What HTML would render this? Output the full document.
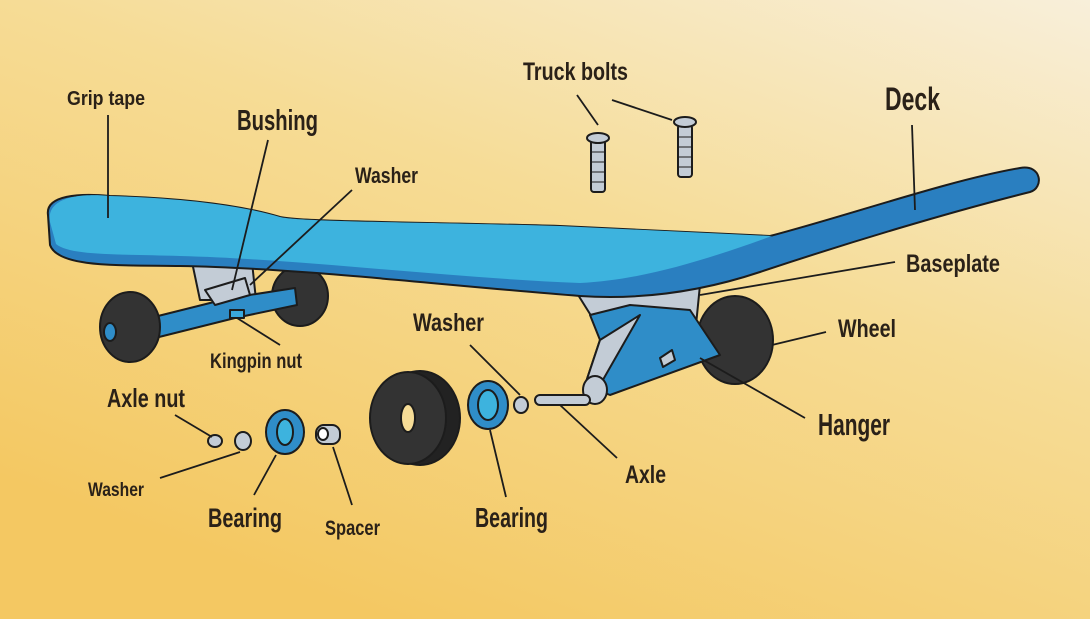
<!DOCTYPE html>
<html><head><meta charset="utf-8"><style>
html,body{margin:0;padding:0;width:1090px;height:619px;overflow:hidden}
svg{display:block}
text{font-family:"Liberation Sans Narrow","Liberation Sans",sans-serif;font-weight:bold;fill:#2a2118}
</style></head><body>
<svg width="1090" height="619" viewBox="0 0 1090 619">
<defs>
<linearGradient id="bg" x1="1" y1="0" x2="0.35" y2="1">
<stop offset="0" stop-color="#f8efda"/><stop offset="0.45" stop-color="#f6dc96"/><stop offset="1" stop-color="#f4c862"/>
</linearGradient>
</defs>
<rect width="1090" height="619" fill="url(#bg)"/>
<g stroke="#1c1c1c" stroke-width="2" stroke-linejoin="round">
<!-- front truck behind deck -->
<path d="M192,262 L252,262 L256,300 L200,300 Z" fill="#c3ccd6"/>
<ellipse cx="300" cy="296" rx="28" ry="30" fill="#333"/>
<path d="M150,318 L230,298 L295,288 L297,305 L235,318 L155,338 Z" fill="#2f8dc8"/>
<path d="M205,290 L245,278 L250,295 L215,305 Z" fill="#c3ccd6"/>
<rect x="230" y="310" width="14" height="8" fill="#3aa8dc"/>
<ellipse cx="130" cy="327" rx="30" ry="35" fill="#333"/>
<ellipse cx="110" cy="332" rx="6" ry="9" fill="#2f8dc8"/>
<!-- rear truck -->
<path d="M575,290 L700,285 L695,335 L600,330 Z" fill="#c3ccd6"/>
<ellipse cx="735" cy="340" rx="38" ry="44" fill="#333"/>
<path d="M590,315 L630,305 L690,310 L720,355 L610,395 L585,385 L600,340 Z" fill="#2f8dc8"/>
<path d="M600,340 L640,315 L600,385 L585,385 Z" fill="#c3ccd6"/>
<ellipse cx="595" cy="390" rx="12" ry="14" fill="#c3ccd6"/>
<path d="M660,358 L672,350 L675,360 L663,367 Z" fill="#c3ccd6"/>
<rect x="535" y="395" width="55" height="10" rx="5" fill="#c3ccd6"/>
<!-- deck -->
<path d="M48,215 C45,195 80,193 110,196 C180,198 240,205 280,217 C300,222 420,222 560,226 L770,236 C850,215 950,180 1020,168 C1042,164 1044,188 1030,192 C950,212 850,242 760,272 C700,292 640,300 580,296 C450,286 300,268 180,266 C120,265 58,268 50,245 Z" fill="#2a7fc0"/>
<path d="M50,222 C46,197 80,193 110,196 C180,198 240,205 280,217 C300,222 420,222 560,226 L772,236 C700,262 640,280 580,283 C450,278 300,259 180,256 C120,254 70,256 56,244 Z" fill="#3db3de" stroke="none"/>
<!-- bolts -->
<g fill="#c3ccd6">
<rect x="591" y="140" width="14" height="52" rx="3"/><ellipse cx="598" cy="138" rx="11" ry="5"/>
<rect x="678" y="125" width="14" height="52" rx="3"/><ellipse cx="685" cy="122" rx="11" ry="5"/>
</g>
<g stroke-width="1" fill="none">
<path d="M591,152h14M591,162h14M591,172h14M591,182h14M678,137h14M678,147h14M678,157h14M678,167h14"/>
</g>
<!-- exploded parts -->
<ellipse cx="420" cy="418" rx="40" ry="47" fill="#222"/>
<ellipse cx="408" cy="418" rx="38" ry="46" fill="#333"/>
<ellipse cx="408" cy="418" rx="7" ry="14" fill="#f6dc96"/>
<ellipse cx="488" cy="405" rx="20" ry="24" fill="#2f8dc8"/>
<ellipse cx="488" cy="405" rx="10" ry="15" fill="#3db3de"/>
<ellipse cx="521" cy="405" rx="7" ry="8" fill="#c3ccd6"/>
<ellipse cx="215" cy="441" rx="7" ry="6" fill="#c3ccd6"/>
<ellipse cx="243" cy="441" rx="8" ry="9" fill="#c3ccd6"/>
<ellipse cx="285" cy="432" rx="19" ry="22" fill="#2f8dc8"/>
<ellipse cx="285" cy="432" rx="8" ry="13" fill="#3db3de"/>
<rect x="316" y="425" width="24" height="19" rx="8" fill="#c3ccd6"/>
<ellipse cx="323" cy="434" rx="5" ry="6" fill="#fff"/>
</g>
<!-- leader lines -->
<g stroke="#1c1c1c" stroke-width="1.8" fill="none">
<path d="M108,115 L108,218"/><path d="M268,140 L232,290"/><path d="M352,190 L250,285"/>
<path d="M577,95 L598,125"/><path d="M612,100 L672,120"/><path d="M912,125 L915,210"/>
<path d="M895,262 L700,295"/><path d="M826,332 L772,345"/><path d="M805,418 L700,358"/>
<path d="M470,345 L520,395"/><path d="M617,458 L560,405"/><path d="M506,497 L490,430"/>
<path d="M280,345 L237,318"/><path d="M175,415 L212,437"/><path d="M160,478 L240,452"/>
<path d="M254,495 L276,455"/><path d="M352,505 L333,447"/>
</g>
<text x="67" y="105" font-size="20" textLength="78" lengthAdjust="spacingAndGlyphs">Grip tape</text>
<text x="237" y="130" font-size="29" textLength="81" lengthAdjust="spacingAndGlyphs">Bushing</text>
<text x="355" y="183" font-size="22" textLength="63" lengthAdjust="spacingAndGlyphs">Washer</text>
<text x="523" y="80" font-size="25" textLength="105" lengthAdjust="spacingAndGlyphs">Truck bolts</text>
<text x="885" y="110" font-size="32" textLength="55" lengthAdjust="spacingAndGlyphs">Deck</text>
<text x="906" y="272" font-size="25" textLength="94" lengthAdjust="spacingAndGlyphs">Baseplate</text>
<text x="838" y="337" font-size="25" textLength="58" lengthAdjust="spacingAndGlyphs">Wheel</text>
<text x="818" y="435" font-size="31" textLength="72" lengthAdjust="spacingAndGlyphs">Hanger</text>
<text x="413" y="331" font-size="25" textLength="71" lengthAdjust="spacingAndGlyphs">Washer</text>
<text x="625" y="483" font-size="25" textLength="41" lengthAdjust="spacingAndGlyphs">Axle</text>
<text x="475" y="527" font-size="28" textLength="73" lengthAdjust="spacingAndGlyphs">Bearing</text>
<text x="210" y="368" font-size="21" textLength="92" lengthAdjust="spacingAndGlyphs">Kingpin nut</text>
<text x="107" y="407" font-size="26" textLength="78" lengthAdjust="spacingAndGlyphs">Axle nut</text>
<text x="88" y="496" font-size="19" textLength="56" lengthAdjust="spacingAndGlyphs">Washer</text>
<text x="208" y="527" font-size="27" textLength="74" lengthAdjust="spacingAndGlyphs">Bearing</text>
<text x="325" y="535" font-size="21" textLength="55" lengthAdjust="spacingAndGlyphs">Spacer</text>
</svg>
</body></html>
